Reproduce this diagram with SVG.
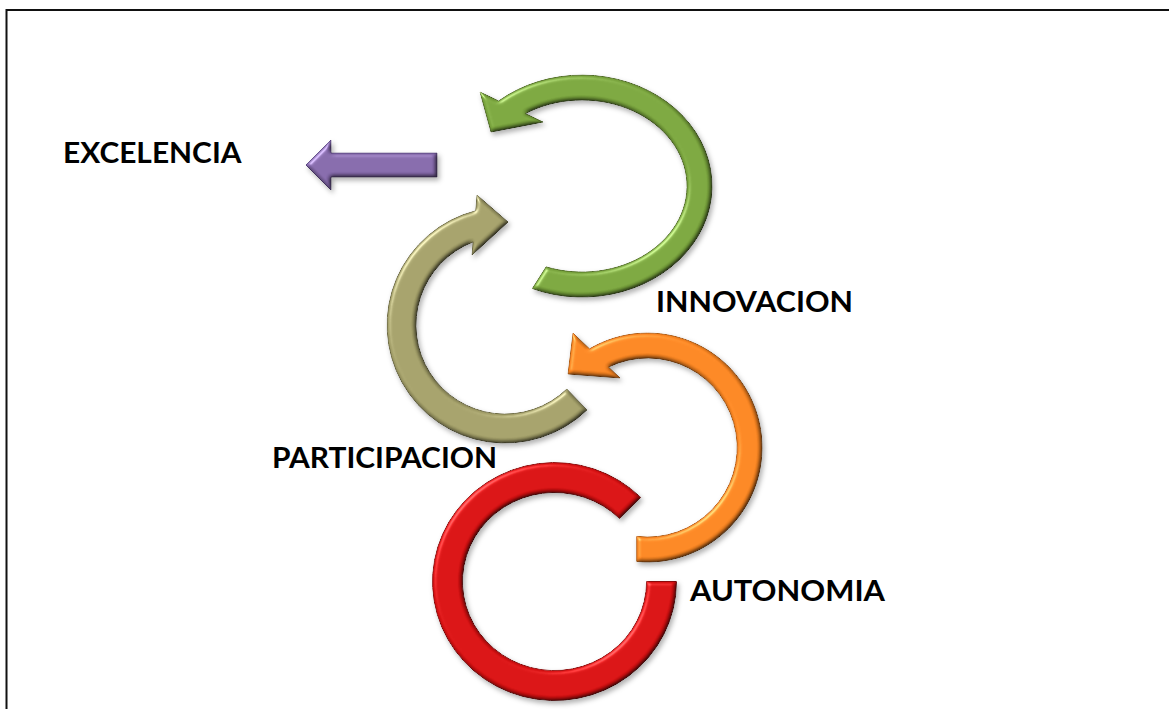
<svg xmlns="http://www.w3.org/2000/svg" width="1169" height="709" viewBox="0 0 1169 709">
<defs>
<filter id="bevel" x="-10%" y="-10%" width="125%" height="125%" color-interpolation-filters="sRGB">
  <feGaussianBlur in="SourceAlpha" stdDeviation="2.2" result="blur"/>
  <feDiffuseLighting in="blur" surfaceScale="2.5" diffuseConstant="1.16" lighting-color="#ffffff" result="diff">
    <feDistantLight azimuth="225" elevation="60"/>
  </feDiffuseLighting>
  <feComposite in="SourceGraphic" in2="diff" operator="arithmetic" k1="1" k2="0" k3="0" k4="0" result="lit"/>
  <feSpecularLighting in="blur" surfaceScale="2.5" specularConstant="0.6" specularExponent="30" lighting-color="#ffffff" result="spec">
    <feDistantLight azimuth="225" elevation="45"/>
  </feSpecularLighting>
  <feComposite in="spec" in2="SourceAlpha" operator="in" result="specIn"/>
  <feComposite in="lit" in2="specIn" operator="arithmetic" k1="0" k2="1" k3="0.6" k4="0" result="shaded"/>
  <feComposite in="shaded" in2="SourceAlpha" operator="in" result="final"/>
  <feGaussianBlur in="SourceAlpha" stdDeviation="2.5" result="sb"/>
  <feOffset in="sb" dx="2" dy="3" result="so"/>
  <feFlood flood-color="#000000" flood-opacity="0.3"/>
  <feComposite in2="so" operator="in" result="shadow"/>
  <feMerge><feMergeNode in="shadow"/><feMergeNode in="final"/></feMerge>
</filter>
</defs>
<style>
  .shape { filter: url(#bevel); stroke-width: 1; stroke-linejoin: miter; }
  .green { fill: #77a23b; stroke: #4e6b22; }
  .olive { fill: #a09c66; stroke: #6b6840; }
  .orange { fill: #f5821f; stroke: #b05a10; }
  .red { fill: #d40f10; stroke: #8a0808; }
  .purple { fill: #8166a6; stroke: #54407a; }
  .label { font-family: "Lato", "Open Sans", "Liberation Sans", sans-serif; font-weight: 700; font-size: 29px; fill: #000000; }
  .frame { stroke: #111111; stroke-width: 2; fill: none; }
</style>
<rect width="1169" height="709" fill="#ffffff"/>
<g id="frame">
  <line class="frame" x1="6.5" y1="10" x2="1169" y2="10"/>
  <line class="frame" x1="6.5" y1="9" x2="6.5" y2="709"/>
</g>
<g id="node-innovacion">
  <path class="shape green" d="M 532.3 288.6 A 130 111 0 1 0 498.6 100.9 L 480 92 L 491 132 L 543 122 L 525.3 113.6 A 105 86 0 1 1 546.1 266.8 Z"/>
  <text class="label" x="656" y="311.7" textLength="197" lengthAdjust="spacingAndGlyphs">INNOVACION</text>
</g>
<g id="node-participacion">
  <path class="shape olive" d="M 587.0 409.9 A 118 118 0 1 1 475.7 210.7 L 477 195 L 508 222 L 472 255 L 473.1 241.9 A 89 89 0 1 0 566.8 389.0 Z"/>
  <text class="label" x="272" y="468.3" textLength="225" lengthAdjust="spacingAndGlyphs">PARTICIPACION</text>
</g>
<g id="node-autonomia">
  <path class="shape orange" d="M 636.7 561.5 A 114.5 114.5 0 1 0 589.5 348.8 L 573 333 L 568 374 L 620 378 L 608.5 367.0 A 89.5 89.5 0 1 1 636.7 536.3 Z"/>
  <text class="label" x="690" y="601" textLength="195" lengthAdjust="spacingAndGlyphs">AUTONOMIA</text>
</g>
<g id="node-ring">
  <path class="shape red" d="M 676.5 581.5 A 122 119 0 1 1 640.8 497.4 L 619.6 518.6 A 92 89 0 1 0 646.5 581.5 Z"/>
</g>
<g id="node-excelencia">
  <text class="label" x="63" y="163.3" textLength="178.5" lengthAdjust="spacingAndGlyphs">EXCELENCIA</text>
</g>
<g id="connectors">
  <path class="shape purple" d="M 437 153 L 331 153 L 331 140 L 306 165 L 331 190 L 331 177 L 437 177 Z"/>
</g>
</svg>
